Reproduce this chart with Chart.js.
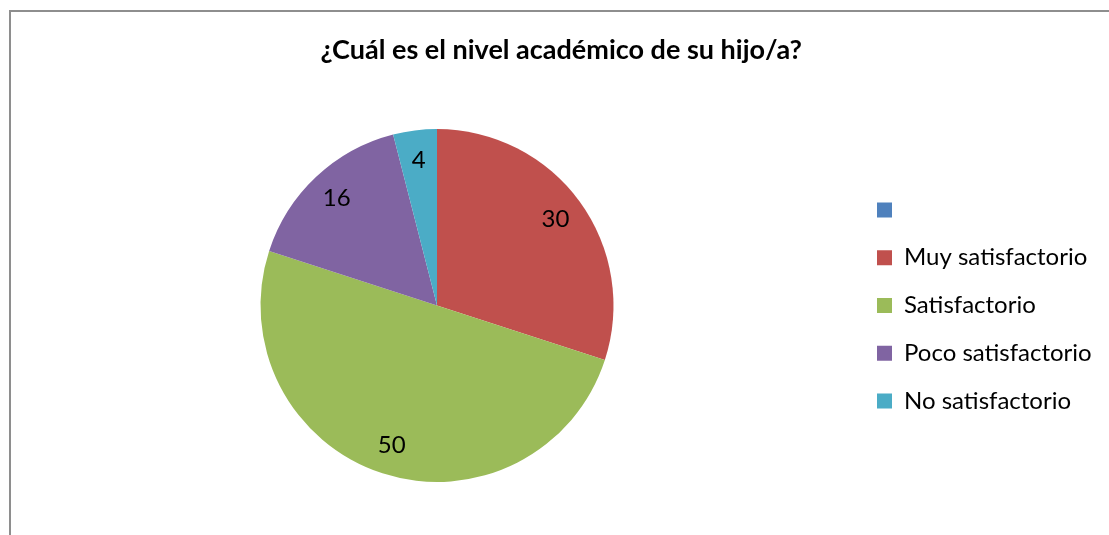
<!DOCTYPE html>
<html>
<head>
<meta charset="utf-8">
<script src="https://cdn.jsdelivr.net/npm/chart.js@4/dist/chart.umd.min.js"></script>
<style>
    html, body { margin: 0; padding: 0; background: #fff; overflow: hidden; }
    #wrap { position: relative; width: 1109px; height: 535px; }
    #frame {
        position: absolute; left: 9px; top: 10px; width: 2000px; height: 2000px;
        border-top: 2px solid #8e8e8e; border-left: 2px solid #8e8e8e;
        pointer-events: none;
    }
</style>
</head>
<body>
<div id="wrap">
    <canvas id="myChart" width="1109" height="535"></canvas>
    <div id="frame"></div>
</div>
<script>
const chartTitle = '¿Cuál es el nivel académico de su hijo/a?';
const categories = ['', 'Muy satisfactorio', 'Satisfactorio', 'Poco satisfactorio', 'No satisfactorio'];
const values = [0, 30, 50, 16, 4];
const sliceColors = ['#4F81BD', '#C0504D', '#9BBB59', '#8064A2', '#4BACC6'];

const fontFamily = 'Lato, Calibri, Carlito, sans-serif';
const legendSize = 24;
const boxSize = 15;
const legendPad = 47.75 - legendSize;

// work out how wide the legend will be so the boxes land where they should
const measureLegend = function() {
    const ctx = document.createElement('canvas').getContext('2d');
    ctx.font = legendSize + 'px ' + fontFamily;
    let widest = 0;
    categories.forEach(function(item){
        widest = Math.max(widest, ctx.measureText(item).width);
    });
    // chart.js adds 10px to a vertical legend
    return boxSize + legendSize / 2 + widest + 10;
}

// numbers inside the slices
const sliceLabels = {
    id: 'sliceLabels',
    afterDatasetsDraw: function(chart) {
        const ctx = chart.ctx;
        const meta = chart.getDatasetMeta(0);
        ctx.save();
        ctx.font = legendSize + 'px ' + fontFamily;
        ctx.fillStyle = '#000';
        ctx.textAlign = 'center';
        ctx.textBaseline = 'middle';
        meta.data.forEach(function(arc, i){
            const v = values[i];
            if(!v) return;
            const p = arc.getProps(['x', 'y', 'startAngle', 'endAngle', 'outerRadius'], true);
            const mid = (p.startAngle + p.endAngle) / 2;
            const r = p.outerRadius * 0.83;
            ctx.fillText(String(v), p.x + Math.cos(mid) * r, p.y + Math.sin(mid) * r);
        });
        ctx.restore();
    }
};

const itemWidth = measureLegend();

const ctx = document.getElementById('myChart').getContext('2d');
const chart = new Chart(ctx, {
    type: 'pie',
    data: {
        labels: categories,
        datasets: [{
            data: values,
            backgroundColor: sliceColors,
            borderWidth: 0
        }]
    },
    plugins: [sliceLabels],
    options: {
        responsive: false,
        animation: false,
        layout: {
            padding: { left: legendPad - 3, right: 1109 - 877 - itemWidth, top: 0, bottom: 53 }
        },
        plugins: {
            title: {
                display: true,
                text: chartTitle,
                color: '#000',
                font: { family: fontFamily, size: 27, weight: 'bold', lineHeight: 1.2 },
                padding: { top: 34, bottom: 62.6 }
            },
            legend: {
                position: 'right',
                fullSize: false,
                labels: {
                    color: '#000',
                    boxWidth: boxSize,
                    boxHeight: boxSize,
                    padding: legendPad,
                    font: { family: fontFamily, size: legendSize, lineHeight: 1 }
                }
            },
            tooltip: { enabled: false }
        }
    }
});
</script>
</body>
</html>
